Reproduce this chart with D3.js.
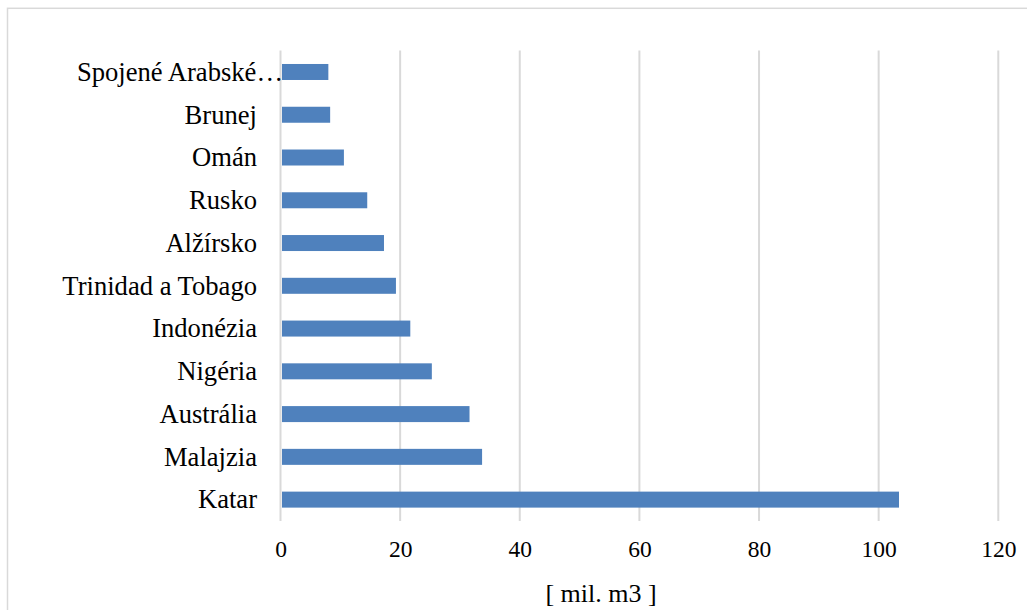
<!DOCTYPE html>
<html>
<head>
<meta charset="utf-8">
<script src="https://cdn.jsdelivr.net/npm/d3@7"></script>
<style>
    html, body { margin: 0; padding: 0; background: #fff; }
    svg { display: block; }
    text { font-family: "Liberation Serif", "Times New Roman", serif; fill: #000; }
</style>
</head>
<body>
<svg id="chart"></svg>
<script>
const categories = ['Spojené Arabské…', 'Brunej', 'Omán', 'Rusko', 'Alžírsko', 'Trinidad a Tobago',
    'Indonézia', 'Nigéria', 'Austrália', 'Malajzia', 'Katar'];
const values = [8.0, 8.3, 10.6, 14.5, 17.3, 19.3, 21.7, 25.3, 31.6, 33.7, 103.4];
const xTicks = [0, 20, 40, 60, 80, 100, 120];
const axisTitle = '[ mil. m3 ]';

const width = 1027;
const height = 610;
const plot = { left: 280.5, right: 998.3, top: 50.6, bottom: 521 };
const serif = '"Liberation Serif", "Times New Roman", serif';

const data = categories.map((c, i) => ({ name: c, value: values[i] }));

const svg = d3.select('#chart')
        .attr('width', width)
        .attr('height', height);

// outer chart border (runs off the right and bottom edges)
svg.append('rect')
    .attr('x', 7.5)
    .attr('y', 8.3)
    .attr('width', width + 20)
    .attr('height', height + 20)
    .attr('fill', 'none')
    .attr('stroke', '#d9d9d9')
    .attr('stroke-width', 1.5);

const x = d3.scaleLinear()
    .domain([0, 120])
    .range([plot.left, plot.right]);

const y = d3.scaleBand()
    .domain(categories)
    .range([plot.top, plot.bottom])
    .paddingInner(0.626)
    .paddingOuter(0.313);

// vertical gridlines
svg.append('g')
        .attr('class', 'grid')
    .selectAll('line')
    .data(xTicks)
    .enter()
    .append('line')
        .attr('x1', d => x(d))
        .attr('x2', d => x(d))
        .attr('y1', plot.top)
        .attr('y2', plot.bottom)
        .attr('stroke', '#d9d9d9')
        .attr('stroke-width', 2);

// bars
svg.append('g')
        .attr('class', 'bars')
    .selectAll('rect')
    .data(data)
    .enter()
    .append('rect')
        .attr('x', x(0) + 1.5)
        .attr('y', d => y(d.name))
        .attr('width', d => x(d.value) - x(0) - 1.5)
        .attr('height', y.bandwidth())
        .attr('fill', '#4f81bd');

// x axis labels
const xAxis = d3.axisBottom(x)
    .tickValues(xTicks)
    .tickSize(0)
    .tickPadding(0)
    .tickFormat(d => `${d}`);

const gx = svg.append('g')
    .attr('class', 'x axis')
    .attr('font-family', null)
    .attr('transform', `translate(0, ${plot.bottom})`)
    .call(xAxis);
gx.select('.domain').remove();
gx.selectAll('text')
    .attr('y', 36)
    .attr('dy', null)
    .style('font-size', '23.5px')
    .style('font-family', serif);

// y axis labels
const yAxis = d3.axisLeft(y)
    .tickSize(0)
    .tickPadding(0);

const gy = svg.append('g')
    .attr('class', 'y axis')
    .attr('transform', 'translate(257, 0)')
    .call(yAxis);
gy.select('.domain').remove();
gy.selectAll('text')
    .attr('x', d => d === categories[0] ? 26 : 0)
    .attr('dy', '0.33em')
    .style('font-size', '26.6px')
    .style('font-family', serif);

// axis title
svg.append('text')
    .attr('x', 601)
    .attr('y', 602)
    .attr('text-anchor', 'middle')
    .style('font-size', '26px')
    .text(axisTitle);
</script>
</body>
</html>
